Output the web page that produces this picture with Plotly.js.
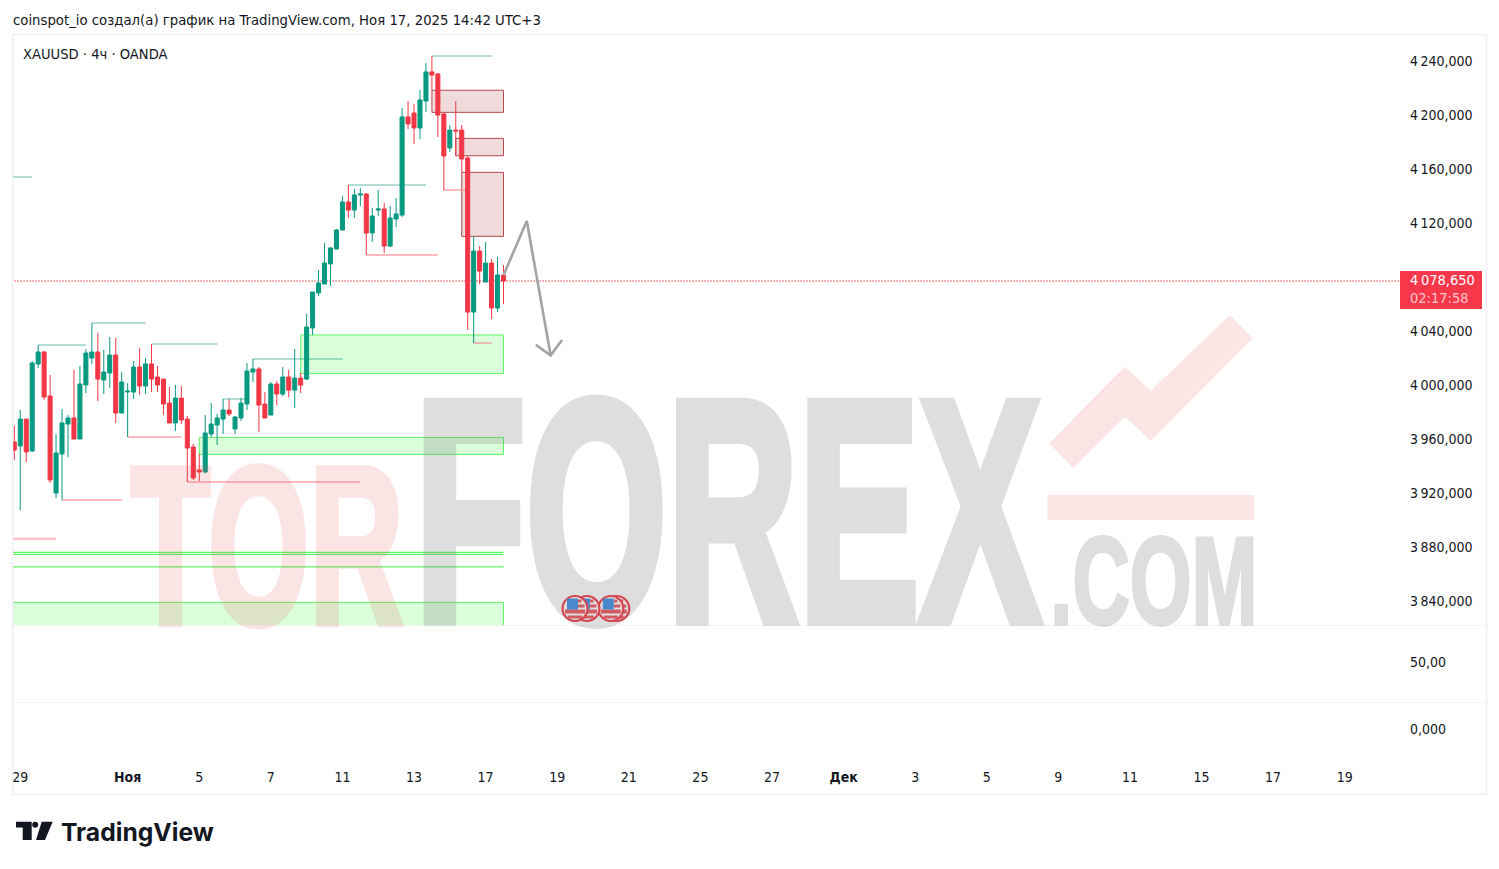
<!DOCTYPE html>
<html>
<head>
<meta charset="utf-8">
<script src="https://cdn.plot.ly/plotly-3.0.1.min.js"></script>
<style>html,body{margin:0;padding:0;background:#fff}#chart{width:1499px;height:869px}</style>
</head>
<body>
<div id="chart"></div>
<script>
// ---- candles (4h XAUUSD) ----
const opens = [3959.2,3956.2,3976.2,3952.5,4017.1,4026,3993.3,3921.3,3950.3,3972.5,
3977,3961.4,4001.5,4021.5,4026,4005.2,4010.4,4023.7,3980.7,3996.3,
3996.3,4014.8,4000.7,4017.1,4007.4,4005.9,3988.1,3973.3,3991.8,3976.2,
3955.5,3938.4,3936.9,3965.1,3971.8,3976.2,3982.9,3968.8,3977,3987.4,
4011.1,4013.4,3987.3,3979.2,4002.2,3994.8,4007.4,3997.7,4006.6,4005.9,
4043.8,4069.8,4076.4,4091.3,4102.4,4116.5,4137.3,4131.3,4142.5,4143.2,
4114.3,4131.3,4132.1,4104.6,4124.7,4127.6,4200.4,4203.3,4192.2,4212.2,
4233.8,4232.3,4202.6,4177.4,4190.7,4190.7,4169.9,4055.6,4100.9,4077.9,
4092,4058.6,4083.1];
const highs = [3971.3,3982.9,3976.2,4019.3,4031.2,4026.7,4008.9,3965.1,3983.7,3979.2,
4012.6,4015.6,4028.2,4047.5,4040.1,4027.5,4037.1,4036.4,4011.1,4003,
4019.3,4028.9,4021.5,4031.9,4015.6,4005.9,4000,4001.5,4000.7,3978.5,
3957.7,3950.3,3979.2,3988.1,3980,3991.1,3991.1,3978.5,3991.8,4017.8,
4020.8,4014.8,3996.3,4003.7,4004.4,4014.8,4012.6,4028.2,4010.4,4054.2,
4070.5,4086.8,4106.9,4103.9,4117.2,4141.7,4149.9,4146.9,4147.7,4144,
4132.8,4146.2,4136.5,4134.3,4140.2,4207,4212.2,4210,4220.4,4240.4,
4245.6,4233,4203.3,4194.4,4212.2,4194.4,4171.4,4112,4104.6,4107.6,
4095,4096.5,4090.5];
const lows = [3945.8,3908.7,3944.3,3951.8,4014.1,3990.3,3928.8,3917.6,3916.1,3948,
3961.4,3961.4,3995.5,4017.1,3989.6,3994.8,3999.3,3973.3,3980.7,3962.9,
3991.1,3994.1,3994.8,3996.3,3996.3,3979.2,3973.3,3967.3,3972.5,3929.5,
3931,3930.2,3936.2,3962.9,3957,3965.1,3978.5,3965.1,3974.8,3982.9,
4003.7,3966.6,3977,3979.2,3986.6,3993.3,3992.5,3984.4,3995.5,4005.2,
4038.6,4067.5,4076.4,4075,4102.4,4116.5,4125.4,4125.4,4134.3,4098,
4107.6,4126.9,4099.4,4103.9,4118.7,4126.1,4191.5,4180.3,4184,4204.1,
4220.4,4185.5,4146.2,4174.4,4171.4,4159.5,4042.3,4032.6,4076.4,4077.9,
4050.4,4055.6,4061.6];
const closes = [3953.2,3976.2,3951.8,4017.8,4026,3992.6,3931,3951,3973.3,3977,
3961.4,4002.2,4025.2,4026,4005.9,4011.1,4023.7,3980.7,4003.7,3997,
4014.8,4000.7,4017.1,4005.9,4001.5,3987.4,3973.3,3991.8,3975.5,3954.7,
3932.5,3936.9,3965.9,3972.5,3977,3982.9,3980,3977.7,3988.1,4011.9,
4013.4,3986.6,3977,4002.2,3994.8,4007.4,3997.7,4006.6,4001.4,4044.5,
4070.5,4077.2,4092,4103.2,4116.5,4137.3,4131.3,4142.5,4143.2,4114.3,
4126.9,4132.1,4104.6,4125.4,4128.4,4200.4,4195.2,4192.2,4213,4233.8,
4231.5,4201.8,4171.4,4190.7,4190,4169.2,4055.6,4100.9,4086,4092,
4058.6,4083.1,4078.65];
const barIndex = opens.map((_, i) => i);

// ---- axis ticks ----
const priceTicks = [4240,4200,4160,4120,4080,4040,4000,3960,3920,3880,3840];
const priceLabels = ['4\u2009240,000','4\u2009200,000','4\u2009160,000','4\u2009120,000','4\u2009080,000','4\u2009040,000','4\u2009000,000','3\u2009960,000','3\u2009920,000','3\u2009880,000','3\u2009840,000'];
const timeTicks = [1,19,31,43,55,67,79,91,103,115,127,139,151,163,175,187,199,211,223];
const timeLabels = ['29','<b>Ноя</b>','5','7','11','13','17','19','21','25','27','<b>Дек</b>','3','5','9','11','15','17','19'];
const lastPrice = 4078.65;

// ---- drawn zones, [bar0, bar1, price0, price1] ----
const greenZones = [[48,82,4038.6,4010],[31,82,3962.6,3950],[-1,82,3840.2,3815]];
const greenLevels = [[-1,82,3877.3],[-1,82,3875.8],[-1,82,3866.6]];
const redZones = [[70,82,4220.2,4203.8],[74,82,4184.5,4171.6],[75,82,4159.3,4111.8]];
// ---- liquidity levels, [bar0, bar1, price] ----
const highLevels = [[-1,3,4155.8],[4,12,4031.2],[13,22,4047.5],[23,34,4031.9],[35,39,3991.1],[40,55,4020.8],[56,69,4149.9],[70,80,4245.6]];
const lowLevels = [[-1,7,3887.4],[8,18,3916.1],[19,28,3962.9],[29,58,3929.5],[59,71,4098],[72,76,4146.2],[77,80,4032.6]];
// ---- forecast arrow ----
const arrowBars = [82,85.9,89.9,null,87.4,89.9,91.8];
const arrowPrices = [4083,4123.2,4023.5,null,4031.4,4023.5,4034.9];
// ---- news events on the time scale ----
const eventBars = [101,100,96,94];

// ---- page geometry ----
const W = 1499, H = 869;
const px = v => v / W, py = v => 1 - v / H;
const FONT = '"DejaVu Sans Condensed", "Noto Sans", sans-serif';
const INK = '#131722';

function rectPx(x0,y0,x1,y1,fill,line){
  return {type:'rect',xref:'paper',yref:'paper',x0:px(x0),x1:px(x1),y0:py(y0),y1:py(y1),fillcolor:fill,line:line||{width:0},layer:'above'};
}
function pathPx(pts,fill){
  const d = pts.map((p,i)=>(i?'L':'M')+px(p[0]).toFixed(5)+','+py(p[1]).toFixed(5)).join(' ')+' Z';
  return {type:'path',xref:'paper',yref:'paper',path:d,fillcolor:fill,line:{width:0},layer:'below'};
}

const shapes = [];
// watermark arrow
const wmRed = 'rgba(230,80,80,0.15)';
shapes.push(pathPx([[1049,443.3],[1125,366.7],[1150.7,390.7],[1230,315],[1252.7,338.3],[1150.7,440.7],[1125,416.7],[1073.3,468.3]],wmRed));
shapes.push(pathPx([[1047.3,495],[1254,495],[1254,520],[1047.3,520]],wmRed));

greenZones.forEach(z=>shapes.push({type:'rect',xref:'x',yref:'y',x0:z[0],x1:z[1],y0:z[2],y1:z[3],fillcolor:'rgba(76,255,76,0.2)',line:{color:'#5cf763',width:1},layer:'below'}));
greenLevels.forEach(l=>shapes.push({type:'line',xref:'x',yref:'y',x0:l[0],x1:l[1],y0:l[2],y1:l[2],line:{color:'#5cf763',width:1.2},layer:'below'}));
redZones.forEach(z=>shapes.push({type:'rect',xref:'x',yref:'y',x0:z[0],x1:z[1],y0:z[2],y1:z[3],fillcolor:'rgba(139,0,0,0.14)',line:{color:'#b34a4f',width:1},layer:'below'}));
highLevels.forEach(l=>shapes.push({type:'line',xref:'x',yref:'y',x0:l[0],x1:l[1],y0:l[2],y1:l[2],line:{color:'rgba(8,153,129,0.32)',width:2},layer:'below'}));
lowLevels.forEach(l=>shapes.push({type:'line',xref:'x',yref:'y',x0:l[0],x1:l[1],y0:l[2],y1:l[2],line:{color:'rgba(250,110,125,0.48)',width:2},layer:'below'}));

// last price dotted line
shapes.push({type:'line',xref:'x',yref:'y',x0:-1,x1:233,y0:lastPrice,y1:lastPrice,line:{color:'#f23645',width:1,dash:'1.5px,1.5px'},layer:'below'});

// frame and pane separators
const frame = '#eef0f5';
shapes.push(rectPx(12.5,34.5,1486.5,794.5,'rgba(0,0,0,0)',{color:frame,width:1.5}));
shapes.push(rectPx(13,625,1486,625.8,frame));
shapes.push(rectPx(13,702,1486,702.8,frame));

// price pill
shapes.push(rectPx(1400,271,1482,309,'#f7384b'));

// event badges
function bar2px(b){return 14.3+5.965*b;}
const badgeY = 608.5;
eventBars.forEach(b=>{
  const c = bar2px(b);
  shapes.push({type:'circle',xref:'paper',yref:'paper',x0:px(c-12.5),x1:px(c+12.5),y0:py(badgeY-12.5),y1:py(badgeY+12.5),fillcolor:'#fff',line:{color:'#f23645',width:2.2},layer:'above'});
  shapes.push(rectPx(c+3,badgeY-9,c+6.5,badgeY-6,'#f0535a'));
  shapes.push(rectPx(c+3,badgeY-4,c+9.5,badgeY-1,'#f0535a'));
  shapes.push(rectPx(c-10,badgeY+1,c+10,badgeY+5,'#f0535a'));
  shapes.push(rectPx(c-7,badgeY+7,c+7,badgeY+10,'#f0535a'));
  shapes.push(rectPx(c-8,badgeY-10,c+3,badgeY+1,'#3b8ee6'));
});

// TradingView logo mark
const black = '#131722';
const logoShapes = [
  pathPx([[16,821.7],[31.7,821.7],[31.7,840],[22.7,840],[22.7,827.5],[16,827.5]],black),
  pathPx([[41.7,821.7],[52.7,821.7],[45,840],[36,840]],black),
  {type:'circle',xref:'paper',yref:'paper',x0:px(32.2),x1:px(38.2),y0:py(821.7),y1:py(827.7),fillcolor:black,line:{width:0},layer:'below'}
];
logoShapes.forEach(s=>shapes.push(s));

// text
const pageTexts = [
  {text:'coinspot_io создал(а) график на TradingView.com, Ноя 17, 2025 14:42 UTC+3',x:13,y:19.5,size:14.75},
  {text:'XAUUSD · 4ч · OANDA',x:23,y:53.5,size:14.6}
];
const annotations = pageTexts.map(t=>({text:t.text,xref:'paper',yref:'paper',x:px(t.x),y:py(t.y),xanchor:'left',yanchor:'middle',showarrow:false,font:{family:FONT,size:t.size,color:INK},xshift:-2}));
annotations.push({text:'TradingView',xref:'paper',yref:'paper',x:px(62),y:py(832),xanchor:'left',yanchor:'middle',showarrow:false,xshift:-3,font:{family:'Inter, sans-serif',size:24.7,color:INK,weight:700}});
annotations.push({text:'4\u2009078,650',xref:'paper',yref:'paper',x:px(1411),y:py(280),xanchor:'left',yanchor:'middle',showarrow:false,xshift:-3,font:{family:FONT,size:14.5,color:'#fff'}});
annotations.push({text:'02:17:58',xref:'paper',yref:'paper',x:px(1411),y:py(298),xanchor:'left',yanchor:'middle',showarrow:false,xshift:-3,font:{family:FONT,size:14.5,color:'rgba(255,255,255,0.72)'}});

// stretched watermark text
const watermark = [
  {text:'TOR',box:[129,464,404,629],color:'rgb(230,80,80)',alpha:0.15,stroke:6},
  {text:'FOREX',box:[422,395,1044,628],color:'rgb(120,120,120)',alpha:0.24,stroke:9},
  {text:'.COM',box:[1054,536,1254,627],color:'rgb(120,120,120)',alpha:0.24,stroke:3}
];
const WM_FONT = 'Liberation Sans';
watermark.forEach(w=>annotations.push({text:w.text,xref:'paper',yref:'paper',x:px(w.box[0]),y:py(w.box[3]),xanchor:'left',yanchor:'bottom',showarrow:false,opacity:w.alpha,font:{family:WM_FONT,size:200,color:w.color,weight:700}}));

const traces = [
  {type:'candlestick',x:barIndex,open:opens,high:highs,low:lows,close:closes,
   increasing:{line:{color:'#089981',width:1},fillcolor:'#089981'},
   decreasing:{line:{color:'#f23645',width:1},fillcolor:'#f23645'},
   whiskerwidth:0,hoverinfo:'skip',showlegend:false,xaxis:'x',yaxis:'y'},
  {type:'scatter',mode:'lines',x:arrowBars,y:arrowPrices,line:{color:'#a3a3a3',width:2.6},hoverinfo:'skip',showlegend:false,connectgaps:false},
  {type:'scatter',mode:'lines',x:[],y:[],yaxis:'y2',showlegend:false,hoverinfo:'skip'},
  {type:'scatter',mode:'lines',x:[],y:[],yaxis:'y3',showlegend:false,hoverinfo:'skip'}
];

const axisFont = {family:FONT,size:14,color:INK};
const layout = {
  width:W,height:H,autosize:false,margin:{l:0,r:0,t:0,b:0},paper_bgcolor:'#fff',plot_bgcolor:'rgba(0,0,0,0)',
  showlegend:false,hovermode:false,dragmode:false,boxgap:0.25,boxgroupgap:0.1,
  xaxis:{domain:[px(13),px(1399)],range:[-0.218,232.1],anchor:'y3',showgrid:false,zeroline:false,showline:false,ticks:'',
         tickmode:'array',tickvals:timeTicks,ticktext:timeLabels,tickfont:axisFont,tickangle:0,rangeslider:{visible:false},ticklabelstandoff:2},
  yaxis:{domain:[py(625),py(35)],range:[3823.4,4261.2],side:'right',anchor:'x',showgrid:false,zeroline:false,showline:false,ticks:'',
         tickmode:'array',tickvals:priceTicks,ticktext:priceLabels,tickfont:axisFont,ticklabelstandoff:10,ticklabelshift:-2},
  yaxis2:{domain:[py(702),py(625)],range:[10,87],side:'right',anchor:'x',showgrid:false,zeroline:false,showline:false,ticks:'',
         tickmode:'array',tickvals:[50],ticktext:['50,00'],tickfont:axisFont,ticklabelstandoff:10},
  yaxis3:{domain:[py(765),py(702)],range:[-36,27],side:'right',anchor:'x',showgrid:false,zeroline:false,showline:false,ticks:'',
         tickmode:'array',tickvals:[0],ticktext:['0,000'],tickfont:axisFont,ticklabelstandoff:10},
  shapes:shapes,annotations:annotations
};

function stretchWatermark(){
  const ctx = document.createElement('canvas').getContext('2d');
  document.querySelectorAll('.annotation-text').forEach(el=>{
    const w = watermark.find(m=>m.text===el.textContent);
    if(!w) return;
    ctx.font = '700 200px "'+WM_FONT+'"';
    const m = ctx.measureText(w.text);
    const left=-m.actualBoundingBoxLeft,right=m.actualBoundingBoxRight,top=-m.actualBoundingBoxAscent,bot=m.actualBoundingBoxDescent;
    const s=w.stroke/2;
    const X0=w.box[0]+s,Y0=w.box[1]+s,X1=w.box[2]-s,Y1=w.box[3]-s;
    const sx=(X1-X0)/(right-left),sy=(Y1-Y0)/(bot-top);
    el.setAttribute('x',0);el.setAttribute('y',0);el.setAttribute('text-anchor','start');
    // place in page pixels, undoing whatever transform the parents carry
    const parentM = el.parentNode.getCTM();
    const wanted = new DOMMatrix([sx,0,0,sy,X0-sx*left,Y0-sy*top]);
    const local = new DOMMatrix([parentM.a,parentM.b,parentM.c,parentM.d,parentM.e,parentM.f]).inverse().multiply(wanted);
    el.setAttribute('transform','matrix('+[local.a,local.b,local.c,local.d,local.e,local.f].join(',')+')');
    el.style.stroke=w.color;el.style.strokeWidth=w.stroke+'px';el.style.vectorEffect='non-scaling-stroke';el.style.strokeLinejoin='miter';
    let p = el.parentNode; while(p && p.tagName!=='svg'){ if(p.getAttribute && p.getAttribute('clip-path')) p.removeAttribute('clip-path'); p=p.parentNode; }
  });
}
Plotly.newPlot('chart',traces,layout,{displayModeBar:false,staticPlot:true}).then(stretchWatermark);
</script>
</body>
</html>
